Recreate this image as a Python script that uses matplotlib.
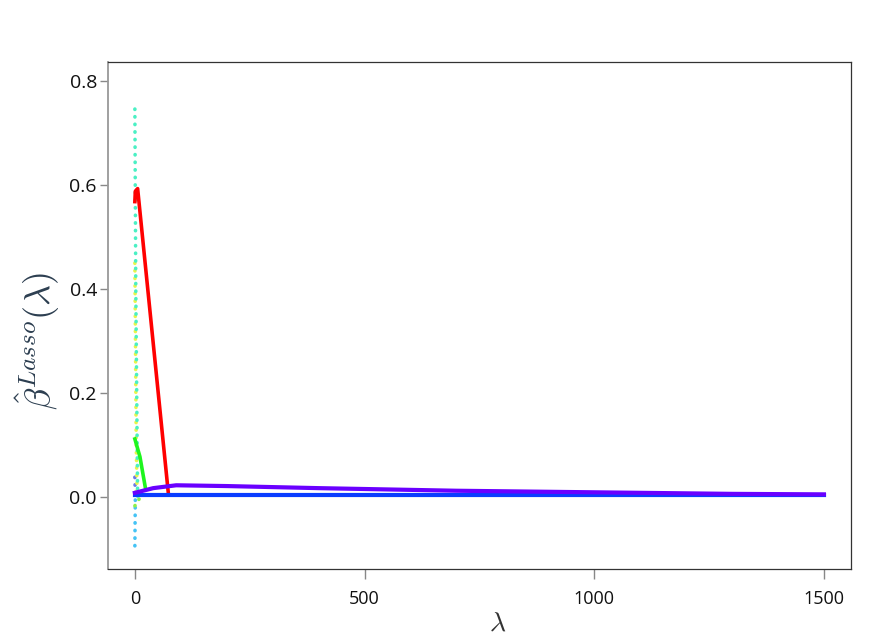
import matplotlib
matplotlib.use("Agg")
import matplotlib.pyplot as plt
import numpy as np

plt.rcParams['mathtext.fontset'] = 'cm'
plt.rcParams['font.family'] = ['Open Sans', 'DejaVu Sans']

# coefficient paths (lambda, beta)
red_lam = [0, 1, 6, 73]
red_beta = [0.568, 0.588, 0.593, 0.006]

green_lam = [0, 11, 23]
green_beta = [0.1115, 0.0775, 0.017]

blue_lam = [0, 1500]
blue_beta = [0.004, 0.004]

purple_lam = [0, 40, 90, 200, 400, 700, 1000, 1300, 1500]
purple_beta = [0.008, 0.017, 0.0225, 0.021, 0.017, 0.012, 0.009, 0.006, 0.005]

cyan_lam = [0, 2, 6]
cyan_beta = [0.746, 0.4, 0.0]

yellow_lam = [0, 3, 5]
yellow_beta = [0.45, 0.1, 0.0]

lgreen_lam = [0, 12]
lgreen_beta = [-0.017, 0.0]

slate_lam = [0, 1]
slate_beta = [0.038, 0.0]

sky_lam = [0, 1]
sky_beta = [-0.094, 0.0]

fig = plt.figure(figsize=(8.79, 6.4), dpi=100)
ax = fig.add_axes([108/879, 1-569/640, 743/879, 507/640])

dot = dict(linestyle=(0, (0.1, 2.0)), lw=2.6, dash_capstyle='round')

ax.plot(sky_lam, sky_beta, color='#45c3f5', **dot)
ax.plot(slate_lam, slate_beta, color='#6a78e6', **dot)
ax.plot(lgreen_lam, lgreen_beta, color='#8ef04a', **dot)
ax.plot(yellow_lam, yellow_beta, color='#e8f54a', **dot)
ax.plot(cyan_lam, cyan_beta, color='#4af0c4', **dot)
ax.plot(green_lam, green_beta, color='#1ef51e', lw=2.6)
ax.plot(red_lam, red_beta, color='#ff0000', lw=2.6)
ax.plot(blue_lam, blue_beta, color='#0a3cff', lw=3.0)
ax.plot(purple_lam, purple_beta, color='#6a00ff', lw=3.0)

ax.set_xlim(-58.5, 1559)
ax.set_ylim(-0.1385, 0.8365)
ax.set_xticks([0, 500, 1000, 1500])
ax.set_yticks([0.0, 0.2, 0.4, 0.6, 0.8])
ax.set_yticklabels(['0.0', '0.2', '0.4', '0.6', '0.8'])

for s in ax.spines.values():
    s.set_color('#333333')
    s.set_linewidth(0.9)
ax.spines['left'].set_color('#999999')
ax.spines['left'].set_linewidth(1.3)

ax.tick_params(axis='y', length=6, width=1, color='#888888', labelsize=14,
               labelcolor='#111111', pad=2)
ax.tick_params(axis='x', length=7, width=1, color='#888888', labelsize=13,
               labelcolor='#111111', pad=8)

ax.set_ylabel(r'$\hat{\beta}^{Lasso}(\lambda)$', fontsize=26, color='#2c3e50')
ax.yaxis.set_label_coords(-0.062, 0.45)
ax.set_xlabel(r'$\lambda$', fontsize=20, color='#333333')
ax.xaxis.set_label_coords(0.524, -0.08)

fig.savefig('out.png', dpi=100)
